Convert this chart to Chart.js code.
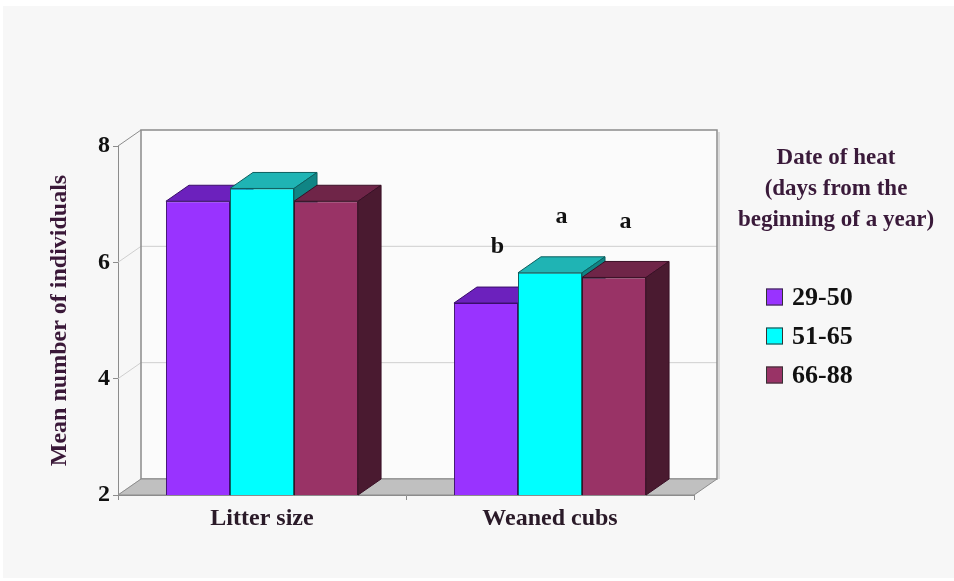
<!DOCTYPE html>
<html>
<head>
<meta charset="utf-8">
<script src="https://cdn.jsdelivr.net/npm/chart.js@4"></script>
<style>
html,body{margin:0;padding:0;background:#ffffff;}
canvas{display:block;}
</style>
</head>
<body>
<canvas id="c" width="954" height="581"></canvas>
<script>
// ---- data ----
const categories = ['Litter size', 'Weaned cubs'];
const seriesNames = ['29-50', '51-65', '66-88'];
const values2950 = [7.05, 5.30];
const values5165 = [7.27, 5.82];
const values6688 = [7.05, 5.74];
const letters2950 = ['', 'b'];
const letters5165 = ['', 'a'];
const letters6688 = ['', 'a'];
const yTicks = [2, 4, 6, 8];
const legendTitle = ['Date of heat', '(days from the', 'beginning of a year)'];
const yTitle = 'Mean number of individuals';

// ---- style ----
const SERIF = '"Liberation Serif", "Times New Roman", serif';
const frontColors = ['#9933ff', '#00ffff', '#993366'];
const topColors = ['#6c21bd', '#1fb4b4', '#6f2548'];
const sideColors = ['#4e1889', '#108585', '#4a1a30'];
const borderColors = ['#3a0f6a', '#0d5f5f', '#3a1026'];
const DX = 23, DY = -16;

const seriesLetters = [letters2950, letters5165, letters6688];

const bgPlugin = {
  id: 'bg',
  beforeDraw(chart) {
    const ctx = chart.ctx;
    ctx.save();
    ctx.fillStyle = '#ffffff';
    ctx.fillRect(0, 0, chart.width, chart.height);
    ctx.fillStyle = '#f7f7f7';
    ctx.fillRect(3, 6, chart.width - 3, chart.height - 9);
    ctx.restore();
  }
};

const box3dPlugin = {
  id: 'box3d',
  beforeDatasetsDraw(chart) {
    const ctx = chart.ctx;
    const {left, right, top, bottom} = chart.chartArea;
    const ys = chart.scales.y;
    ctx.save();
    // back wall
    ctx.fillStyle = '#fbfbfb';
    ctx.fillRect(left + DX, top + DY, right - left, bottom - top);
    // back wall grid lines + side wall diagonals
    yTicks.forEach(v => {
      const py = ys.getPixelForValue(v);
      ctx.strokeStyle = (v === 8) ? '#8c8c8c' : '#cfcfcf';
      ctx.lineWidth = 1;
      if (v !== 8 && v !== 2) {
        ctx.beginPath();
        ctx.moveTo(left + DX, py + DY);
        ctx.lineTo(right + DX, py + DY);
        ctx.stroke();
      }
      ctx.beginPath();
      ctx.moveTo(left, py);
      ctx.lineTo(left + DX, py + DY);
      ctx.stroke();
    });
    // back wall border
    ctx.strokeStyle = '#8c8c8c';
    ctx.lineWidth = 1.5;
    ctx.strokeRect(left + DX, top + DY, right - left, bottom - top);
    ctx.strokeStyle = '#bdbdbd';
    ctx.lineWidth = 1;
    ctx.beginPath();
    ctx.moveTo(right + DX + 2, top + DY + 2);
    ctx.lineTo(right + DX + 2, bottom + DY);
    ctx.stroke();
    // floor
    ctx.beginPath();
    ctx.moveTo(left, bottom);
    ctx.lineTo(left + DX, bottom + DY);
    ctx.lineTo(right + DX, bottom + DY);
    ctx.lineTo(right, bottom);
    ctx.closePath();
    ctx.fillStyle = '#c0c0c0';
    ctx.fill();
    ctx.strokeStyle = '#8c8c8c';
    ctx.lineWidth = 1;
    ctx.stroke();

    // bar tops and sides, drawn left to right
    const bars = [];
    chart.data.datasets.forEach((ds, di) => {
      const meta = chart.getDatasetMeta(di);
      meta.data.forEach(el => bars.push({el, di}));
    });
    bars.sort((a, b) => a.el.x - b.el.x);
    bars.forEach(({el, di}) => {
      const w = el.width;
      const l = el.x - w / 2, r = el.x + w / 2, y = el.y;
      const b = Math.min(el.base, bottom);
      ctx.lineWidth = 1;
      ctx.strokeStyle = borderColors[di];
      // top
      ctx.beginPath();
      ctx.moveTo(l, y);
      ctx.lineTo(r, y);
      ctx.lineTo(r + DX, y + DY);
      ctx.lineTo(l + DX, y + DY);
      ctx.closePath();
      ctx.fillStyle = topColors[di];
      ctx.fill();
      ctx.stroke();
      // side
      ctx.beginPath();
      ctx.moveTo(r, y);
      ctx.lineTo(r + DX, y + DY);
      ctx.lineTo(r + DX, b + DY);
      ctx.lineTo(r, b);
      ctx.closePath();
      ctx.fillStyle = sideColors[di];
      ctx.fill();
      ctx.stroke();
    });
    ctx.restore();
  },
  afterDatasetsDraw(chart) {
    const ctx = chart.ctx;
    ctx.save();
    ctx.font = 'bold 24px ' + SERIF;
    ctx.fillStyle = '#111111';
    ctx.textAlign = 'center';
    ctx.textBaseline = 'middle';
    chart.data.datasets.forEach((ds, di) => {
      const meta = chart.getDatasetMeta(di);
      meta.data.forEach((el, i) => {
        const t = seriesLetters[di][i];
        if (t) ctx.fillText(t, el.x + DX / 2, el.y - 56);
      });
    });
    ctx.restore();
  }
};

const legendPlugin = {
  id: 'customLegend',
  afterDraw(chart) {
    const ctx = chart.ctx;
    ctx.save();
    ctx.font = 'bold 23px ' + SERIF;
    ctx.fillStyle = '#3a1a3a';
    ctx.textAlign = 'center';
    ctx.textBaseline = 'middle';
    legendTitle.forEach((line, i) => ctx.fillText(line, 836, 158 + i * 31));
    ctx.font = 'bold 26px ' + SERIF;
    ctx.textAlign = 'left';
    chart.data.datasets.forEach((ds, i) => {
      const cy = 297 + i * 39;
      ctx.fillStyle = ds.backgroundColor;
      ctx.fillRect(766, cy - 8.5, 17, 17);
      ctx.strokeStyle = '#333333';
      ctx.lineWidth = 1;
      ctx.strokeRect(766.5, cy - 8, 16, 16);
      ctx.fillStyle = '#111111';
      ctx.fillText(ds.label, 792, cy + 1);
    });
    ctx.restore();
  }
};

new Chart(document.getElementById('c'), {
  type: 'bar',
  data: {
    labels: categories,
    datasets: [
      {label: seriesNames[0], data: values2950, backgroundColor: frontColors[0], borderColor: borderColors[0], borderWidth: 1},
      {label: seriesNames[1], data: values5165, backgroundColor: frontColors[1], borderColor: borderColors[1], borderWidth: 1},
      {label: seriesNames[2], data: values6688, backgroundColor: frontColors[2], borderColor: borderColors[2], borderWidth: 1}
    ]
  },
  options: {
    responsive: false,
    animation: false,
    devicePixelRatio: 1,
    layout: {padding: {left: 0, right: 260, top: 146, bottom: 0}},
    datasets: {bar: {categoryPercentage: 0.667, barPercentage: 1.0}},
    plugins: {
      legend: {display: false},
      tooltip: {enabled: false}
    },
    scales: {
      x: {
        grid: {display: true, drawOnChartArea: false, drawTicks: true, tickLength: 5, color: '#8c8c8c', offset: true},
        border: {display: true, color: '#8c8c8c', width: 1},
        ticks: {font: {family: SERIF, size: 24, weight: 'bold'}, color: '#2a1a28', padding: 4},
        afterFit(scale) { scale.height = 86; }
      },
      y: {
        min: 2, max: 8,
        afterBuildTicks(scale) { scale.ticks = yTicks.map(v => ({value: v})); },
        grid: {display: true, drawOnChartArea: false, drawTicks: true, tickLength: 5, color: '#8c8c8c'},
        border: {display: true, color: '#8c8c8c', width: 1},
        ticks: {font: {family: SERIF, size: 24, weight: 'bold'}, color: '#111111', padding: 3},
        title: {display: true, text: yTitle, font: {family: SERIF, size: 24, weight: 'bold'}, color: '#3a1838', padding: {top: 45, bottom: 0}},
        afterFit(scale) { scale.width = 118; }
      }
    }
  },
  plugins: [bgPlugin, box3dPlugin, legendPlugin]
});
</script>
</body>
</html>
